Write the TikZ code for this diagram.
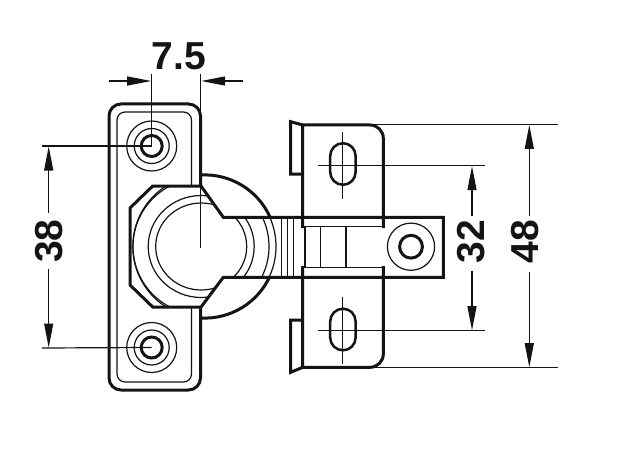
\documentclass[tikz,border=0pt]{standalone}
\usepackage{fontspec}
\setmainfont{Liberation Sans}
\usetikzlibrary{arrows.meta}
\definecolor{ink}{HTML}{141414}
\tikzset{
  x=1pt,y=-1pt,
  heavy/.style={draw=ink,line width=3pt,line join=miter},
  medium/.style={draw=ink,line width=2.5pt},
  thin/.style={draw=ink,line width=1.2pt},
  dimline/.style={draw=ink,line width=1.2pt},
  tip/.style={-{Triangle[length=24pt,width=9pt,color=ink]}},
  dimtext/.style={font=\fontsize{39}{39}\selectfont\bfseries,text=ink,inner sep=0pt}
}
\begin{document}
\begin{tikzpicture}
\useasboundingbox (0,0) rectangle (620,465);
\fill[white] (0,0) rectangle (620,465);

% mounting plate
\draw[heavy] (200.5,186) -- (200.5,116) arc[start angle=0,end angle=-90,radius=12] -- (121,104)
  arc[start angle=-90,end angle=-180,radius=12] -- (109,378)
  arc[start angle=180,end angle=90,radius=12] -- (188.5,390)
  arc[start angle=90,end angle=0,radius=12] -- (200.5,307);
\draw[thin] (191.5,186) -- (191.5,120) arc[start angle=0,end angle=-90,radius=8] -- (125,112)
  arc[start angle=-90,end angle=-180,radius=8] -- (117,374)
  arc[start angle=180,end angle=90,radius=8] -- (183.5,382)
  arc[start angle=90,end angle=0,radius=8] -- (191.5,307);

% screw holes
\foreach \n/\cy in {a/146,b/347.5}{
  \coordinate (hole\n) at (151.7,\cy);
  \draw[thin] (hole\n) circle[radius=25];
  \draw[thin] (hole\n) circle[radius=17.5];
  \draw[heavy] (hole\n) circle[radius=10.5];
}

% concentric cup rings, kept inside the octagon and the arm
\begin{scope}
  \clip (130,208) -- (152.7,186) -- (201,186) -- (223.3,217.3) -- (302,217.3) -- (302,277.3)
    -- (223.3,277.3) -- (201,307) -- (152.7,307) -- (130,285) -- cycle;
  \draw[thin] (201.2,246.5) ellipse[x radius=45.5,y radius=43.5];
  \draw[thin] (201.2,246.5) ellipse[x radius=53,y radius=51];
  \draw[thin] (201,246.5) circle[radius=68];
  \draw[thin] (204.4,246.5) circle[radius=71.6];
\end{scope}
\foreach \x in {281.7,287.3,293.3}{\draw[thin] (\x,217.3) -- (\x,277.3);}

% dome
\draw[heavy] (201,175) arc[start angle=-93,end angle=-24.5,radius=71.6];
\draw[heavy] (201,318) arc[start angle=93,end angle=24.5,radius=71.6];

% octagon and arm
\draw[heavy] (443.3,217.3) -- (223.3,217.3) -- (201,186) -- (152.7,186) -- (130,208)
  -- (130,285) -- (152.7,307) -- (201,307) -- (223.3,277.3) -- (443.3,277.3) -- cycle;

% lines between the two leaves
\foreach \x in {305,320.7,346}{\draw[thin] (\x,226.7) -- (\x,267.7);}

% upper leaf
\draw[heavy] (302.7,228) -- (302.7,125) -- (370,125) arc[start angle=-90,end angle=0,radius=13.3] -- (383.3,228);
\draw[thin] (302.7,226.7) -- (383.3,226.7);
\draw[heavy] (302.7,174) -- (290.7,174) -- (290.7,121.7) -- (302.7,125);
% lower leaf
\draw[heavy] (302.7,266) -- (302.7,367.3) -- (370,367.3) arc[start angle=90,end angle=0,radius=13.3] -- (383.3,266);
\draw[thin] (302.7,267.7) -- (383.3,267.7);
\draw[heavy] (302.7,320) -- (290.7,320) -- (290.7,372.3) -- (302.7,367.3);

% slots
\foreach \n/\cy in {a/164,b/329.5}{
  \draw[medium,rounded corners=12.7pt] (330.2,\cy-20.8) rectangle (355.6,\cy+20.8);
}
% right hole
\coordinate (holec) at (411,246.7);
\draw[thin] (holec) circle[radius=23.6];
\draw[heavy] (holec) circle[radius=11.4];

% centre lines of slots
\draw[thin] (342.7,131.7) -- (342.7,199.3);
\draw[thin] (342.7,296.7) -- (342.7,364);

% extension lines
\coordinate (e48a) at (558,124.5);
\coordinate (e48b) at (558,367.7);
\coordinate (e32a) at (485,165.7);
\coordinate (e32b) at (485,330.7);
\coordinate (e38a) at (42,146);
\coordinate (e38b) at (42,348);
\draw[dimline] (362,124.5) -- (e48a);
\draw[dimline] (362,367.7) -- (e48b);
\draw[dimline] (318,165.7) -- (e32a);
\draw[dimline] (318,330.7) -- (e32b);
\draw[dimline] (e38a) -- (holea);
\draw[dimline] (e38b) -- (holeb);
\draw[dimline] (151.7,74) -- (holea);
\draw[dimline] (200.5,74) -- (200.5,248);

% dimension arrows
\draw[dimline,tip] (109,81) -- (151.2,81);
\draw[dimline,tip] (243,81) -- (201.2,81);
\draw[dimline,tip] (48.7,213) -- (48.7,146.5);
\draw[dimline,tip] (48.7,269) -- (48.7,347.5);
\draw[dimline,tip] (472,216) -- (472,166.2);
\draw[dimline,tip] (472,270.7) -- (472,330.2);
\draw[dimline,tip] (529.3,216) -- (529.3,125);
\draw[dimline,tip] (529.3,271.7) -- (529.3,367.2);

% dimension texts
\node[dimtext] (t75) at (179,56) {7.5};
\node[dimtext,rotate=90] (t38) at (49,241) {38};
\node[dimtext,rotate=90] (t32) at (471.5,241.7) {32};
\node[dimtext,rotate=90] (t48) at (525,241.7) {48};
\end{tikzpicture}
\end{document}
